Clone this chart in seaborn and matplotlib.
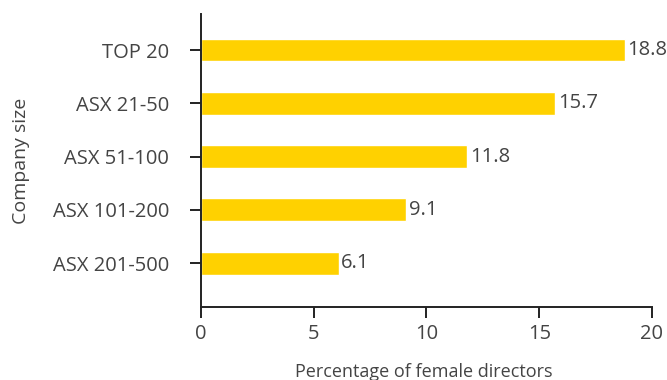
import matplotlib
matplotlib.use("Agg")
import matplotlib.pyplot as plt
import seaborn as sns
import pandas as pd

categories = ["TOP 20", "ASX 21-50", "ASX 51-100", "ASX 101-200", "ASX 201-500"]
values = [18.8, 15.7, 11.8, 9.1, 6.1]
x_ticks = [0, 5, 10, 15, 20]

sns.set_theme(style="white")
plt.rcParams['font.family'] = ['Open Sans', 'DejaVu Sans']

df = pd.DataFrame({"size": categories, "pct": values})

fig = plt.figure(figsize=(6.67, 3.8), dpi=100)
ax = fig.add_axes([0.3013, 0.192, 0.9775 - 0.3013, 0.963 - 0.192])
sns.barplot(data=df, y="size", x="pct", color="#FFD100", width=0.43,
            saturation=1, ax=ax, orient="h")

txt = "#444444"
fs = 14.5
for i, v in enumerate(values):
    ax.text(v + 0.12, i, f"{v:.1f}", va="center", ha="left",
            fontsize=fs, color=txt)

ax.set_xlim(0, 20)
ax.set_ylim(4.825, -0.675)
ax.set_xticks(x_ticks)
ax.set_xticklabels([str(t) for t in x_ticks])
ax.set_xlabel("Percentage of female directors", fontsize=13, color=txt)
ax.set_ylabel("Company size", fontsize=14, color=txt)
ax.xaxis.set_label_coords(0.494, -0.19)
ax.yaxis.set_label_coords(-0.38, 0.50)
ax.tick_params(axis="both", labelsize=fs, labelcolor=txt, length=8, width=1.4,
               color="#222222", left=True, bottom=True)
ax.tick_params(axis="y", pad=15)
ax.tick_params(axis="x", pad=4)
for s in ["top", "right"]:
    ax.spines[s].set_visible(False)
for s in ["left", "bottom"]:
    ax.spines[s].set_color("#222222")
    ax.spines[s].set_linewidth(1.4)

fig.savefig("out.png", dpi=100)
